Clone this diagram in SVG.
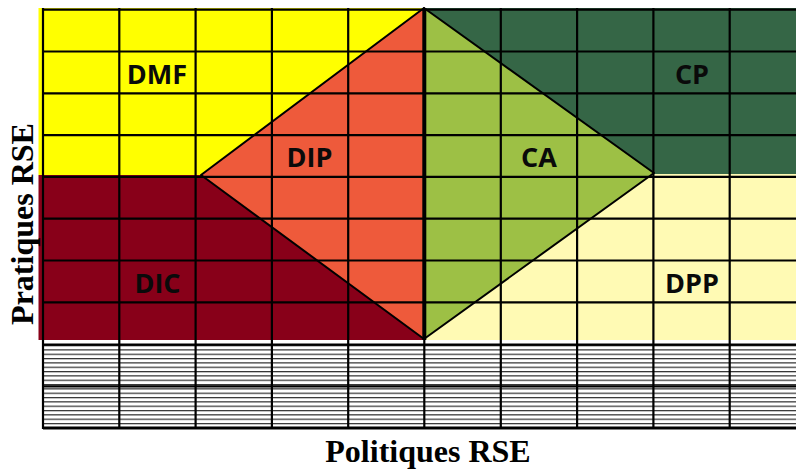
<svg xmlns="http://www.w3.org/2000/svg" width="796" height="470" viewBox="0 0 796 470">
<style>
.grid{stroke:#000;stroke-width:2.2;fill:none}
.edge{stroke:#000;stroke-width:2;stroke-linejoin:round}
.lbl{font-family:"Open Sans","Liberation Sans",sans-serif;font-weight:bold;font-size:27px;fill:#0a0a0a;text-anchor:middle}
.axis{font-family:"Liberation Serif","Times New Roman",serif;font-weight:bold;font-size:32px;fill:#000;text-anchor:middle}
</style>
<defs>
<pattern id="hatch" patternUnits="userSpaceOnUse" x="0" y="345" width="20" height="4.33">
<rect x="0" y="0" width="20" height="4.33" fill="#fff"/>
<line x1="0" y1="0.6" x2="20" y2="0.6" stroke="#2a2a2a" stroke-width="1.2"/>
</pattern>
</defs>
<rect x="0" y="0" width="796" height="470" fill="#fff"/>
<g id="hatched-zone">
<rect x="43" y="345" width="760" height="83" fill="url(#hatch)"/>
</g>
<g id="DMF">
<rect x="38.5" y="8" width="386" height="167" fill="#ffff00"/>
</g>
<g id="DIC">
<rect x="38.5" y="175" width="386" height="165" fill="#880019"/>
</g>
<g id="CP">
<rect x="424" y="8" width="372" height="166" fill="#356646"/>
</g>
<g id="DPP">
<rect x="424" y="174" width="372" height="166" fill="#fffab4"/>
</g>
<g id="DIP">
<polygon class="edge" points="201,175 424,8 424,339" fill="#ee5a3b"/>
</g>
<g id="CA">
<polygon class="edge" points="424,8 654,173 424,339" fill="#9dc045"/>
</g>
<g id="grid">
<path class="grid" d="M43,9.7H796M43,51.5H796M43,93.3H796M43,135.1H796M43,176.9H796M43,218.7H796M43,260.5H796M43,302.3H796M43,344.6H796M43,386.3H796"/>
<path class="grid" d="M43,8V429M119.3,8V429M195.6,8V429M271.9,8V429M348.2,8V429M500.8,8V429M577.1,8V429M653.4,8V429M729.7,8V429"/>
<line x1="43" y1="428" x2="796" y2="428" stroke="#000" stroke-width="3"/>
<line x1="424.3" y1="8" x2="424.3" y2="340" stroke="#000" stroke-width="4"/>
<line x1="424.3" y1="340" x2="424.3" y2="429" stroke="#000" stroke-width="2.2"/>
</g>
<g id="labels">
<text class="lbl" x="157" y="84">DMF</text>
<text class="lbl" x="309.5" y="167">DIP</text>
<text class="lbl" x="539" y="167">CA</text>
<text class="lbl" x="692" y="84">CP</text>
<text class="lbl" x="157.5" y="293">DIC</text>
<text class="lbl" x="692" y="293">DPP</text>
<text class="axis" x="428" y="462">Politiques RSE</text>
<text class="axis" transform="translate(33,224) rotate(-90)">Pratiques RSE</text>
</g>
</svg>
